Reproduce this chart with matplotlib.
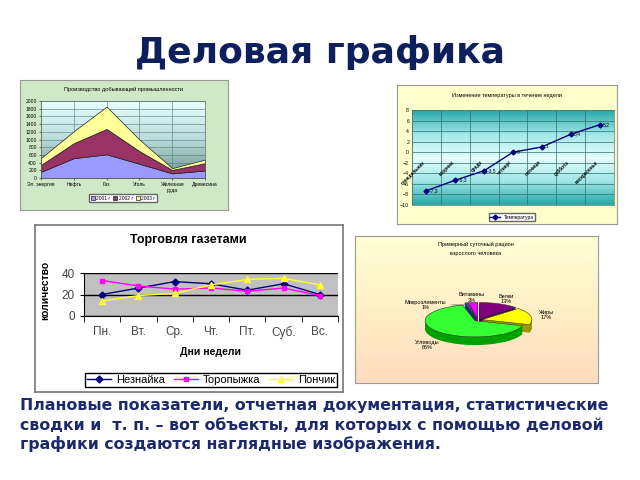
import numpy as np
import matplotlib
matplotlib.use('Agg')
import matplotlib.pyplot as plt
from matplotlib.colors import LinearSegmentedColormap

plt.rcParams['font.family'] = ['Liberation Sans', 'DejaVu Sans']

# производство (накопительная диаграмма с областями)
prod_cats = ['Эл. энергия', 'Нефть', 'Газ', 'Уголь', 'Железная\nруда', 'Древесина']
prod_2001 = [160, 515, 615, 370, 120, 195]
prod_2002 = [180, 390, 660, 330, 90, 190]
prod_2003 = [180, 310, 580, 300, 45, 95]
prod_years = ['2001 г', '2002 г', '2003 г']

# температура
temp_days = ['понедельник', 'вторник', 'среда', 'четверг', 'пятница', 'суббота', 'воскресенье']
temp_vals = [-7.3, -5.3, -3.5, 0, 1, 3.4, 5.2]

# газеты
news_days = ['Пн.', 'Вт.', 'Ср.', 'Чт.', 'Пт.', 'Суб.', 'Вс.']
news_neznaika = [20, 26, 32, 30, 24, 30, 20]
news_toropyzhka = [33, 28, 25, 26, 23, 26, 19]
news_ponchik = [14, 19, 21, 29, 34, 35, 29]

# рацион
diet_names = ['Белки', 'Жиры', 'Углеводы', 'Микроэлементы', 'Витамины']
diet_pct = [13, 17, 66, 1, 3]

W, H = 640, 480
fig = plt.figure(figsize=(6.4, 4.8), dpi=100)


def box(x0, y0, x1, y1):
    return [x0 / W, 1 - y1 / H, (x1 - x0) / W, (y1 - y0) / H]


def fx(x):
    return x / W


def fy(y):
    return 1 - y / H


def panel(x0, y0, x1, y1, face='white', grad=None, edge='#999999', lw=0.8):
    a = fig.add_axes(box(x0, y0, x1, y1))
    a.set_xticks([])
    a.set_yticks([])
    a.set_facecolor(face)
    if grad is not None:
        cm = LinearSegmentedColormap.from_list('bg', grad)
        a.imshow(np.linspace(0, 1, 100)[:, None], cmap=cm, aspect='auto', extent=[0, 1, 0, 1])
    for s in a.spines.values():
        s.set_color(edge)
        s.set_linewidth(lw)
    return a


def grad_img(ax, colors, extent):
    cm = LinearSegmentedColormap.from_list('pg', colors)
    ax.imshow(np.linspace(0, 1, 100)[:, None], cmap=cm, aspect='auto', extent=extent, zorder=0)


# заголовок
fig.text(0.5, fy(52), 'Деловая графика', family='DejaVu Sans', fontsize=26,
         fontweight='bold', color='#0d1f5c', ha='center', va='center')

# ---------- 1: производство ----------
panel(20, 80, 228, 210, face='#cfe9c6')
ax1 = fig.add_axes(box(41, 101, 205, 178))
x1 = np.arange(len(prod_cats))
grad_img(ax1, ['#e8ffff', '#b9dcdc', '#6f938f'], [0, 5, 0, 2000])
ax1.stackplot(x1, prod_2001, prod_2002, prod_2003, colors=['#9999ff', '#993366', '#ffff99'],
              edgecolor='#222222', linewidth=0.5, labels=prod_years, zorder=2)
ax1.set_xlim(0, 5)
ax1.set_ylim(0, 2000)
ax1.set_yticks(range(0, 2001, 200))
ax1.set_xticks(x1)
ax1.set_xticklabels(prod_cats)
ax1.tick_params(labelsize=3.6, length=1.5, width=0.4, pad=1.5)
ax1.grid(True, color='#4f7878', lw=0.4)
for s in ax1.spines.values():
    s.set_color('#666666')
    s.set_linewidth(0.5)
ax1.legend(loc='center', bbox_to_anchor=(fx(123), fy(198)), bbox_transform=fig.transFigure,
           ncol=3, fontsize=3.5, handlelength=0.8, handleheight=0.8, handletextpad=0.3,
           columnspacing=0.6, fancybox=False, edgecolor='#666666', borderpad=0.3, framealpha=1)
fig.text(fx(123), fy(89), 'Производство добывающей промышленности', fontsize=4,
         ha='center', va='center')

# ---------- 2: температура ----------
panel(397, 85, 617, 224, face='#ffffcc')
ax2 = fig.add_axes(box(412, 110, 614, 205))
x2 = np.arange(len(temp_days))
grad_img(ax2, ['#2aa8a8', '#a0e6e6', '#e8ffff', '#a0e6e6', '#2aa8a8'], [-0.5, 6.5, -10, 8])
ax2.plot(x2, temp_vals, color='#000080', lw=1, marker='D', ms=2.5, label='Температура', zorder=3)
for xi, v in zip(x2, temp_vals):
    ax2.text(xi + 0.12, v, '{:g}'.format(v).replace('.', ','), fontsize=3.6,
             va='center', ha='left', zorder=4)
for xi, d in zip(x2, temp_days):
    ax2.text(xi, -1.4, d, rotation=45, ha='right', va='top', fontsize=3.4,
             fontweight='bold', zorder=4)
ax2.set_xlim(-0.5, 6.5)
ax2.set_ylim(-10, 8)
ax2.set_yticks(range(-10, 9, 2))
ax2.set_xticks(np.arange(-0.5, 7, 1))
ax2.set_xticklabels([])
ax2.grid(True, color='#2a7070', lw=0.5)
ax2.tick_params(length=0, labelsize=3.8, pad=2)
for s in ax2.spines.values():
    s.set_color('#557777')
    s.set_linewidth(0.5)
ax2.legend(loc='center', bbox_to_anchor=(fx(512), fy(217)), bbox_transform=fig.transFigure,
           fontsize=3.5, handlelength=2, fancybox=False, edgecolor='#666666',
           borderpad=0.3, framealpha=1)
fig.text(fx(507), fy(96), 'Изменение температуры в течение недели', fontsize=4,
         ha='center', va='center')

# ---------- 3: газеты ----------
panel(35, 225, 343, 392, face='white', edge='#777777', lw=1.2)
ax3 = fig.add_axes(box(84, 273, 338, 316))
x3 = np.arange(len(news_days))
ax3.set_facecolor('#c0c0c0')
ax3.plot(x3, news_neznaika, color='#000080', marker='D', ms=3.5, lw=1, label='Незнайка', zorder=3)
ax3.plot(x3, news_toropyzhka, color='#ff00ff', marker='s', ms=3.5, lw=1, label='Торопыжка', zorder=3)
ax3.plot(x3, news_ponchik, color='#ffff33', marker='^', ms=4, lw=1, label='Пончик', zorder=3)
ax3.set_xlim(-0.5, 6.5)
ax3.set_ylim(0, 40)
ax3.set_yticks([0, 20, 40])
ax3.yaxis.grid(True, color='black', lw=1)
ax3.set_xticks(x3)
ax3.set_xticklabels(news_days)
ax3.set_xticks(np.arange(-0.5, 7, 1), minor=True)
ax3.tick_params(axis='x', which='major', length=0, pad=7, labelsize=8.5, labelcolor='#444444')
ax3.tick_params(axis='x', which='minor', length=4)
ax3.tick_params(axis='y', length=3, labelsize=8.5, labelcolor='#444444')
ax3.spines['top'].set_visible(False)
ax3.spines['right'].set_visible(False)
fig.text(fx(188), fy(240), 'Торговля газетами', fontsize=9, fontweight='bold',
         ha='center', va='center')
fig.text(fx(45), fy(290), 'количество', fontsize=7.5, fontweight='bold', rotation=90,
         ha='center', va='center')
fig.text(fx(211), fy(352), 'Дни недели', fontsize=7.5, fontweight='bold',
         ha='center', va='center')
ax3.legend(loc='center', bbox_to_anchor=(fx(211), fy(380)), bbox_transform=fig.transFigure,
           ncol=3, fontsize=8, handlelength=2.2, handletextpad=0.4, columnspacing=0.8,
           fancybox=False, edgecolor='black', borderpad=0.2, framealpha=1)

# ---------- 4: рацион ----------
panel(355, 236, 598, 383, grad=['#ffffd6', '#ffefc6', '#ffdcc0'])
ax4 = fig.add_axes(box(413, 294, 543, 349))
ax4.patch.set_visible(False)
top_cols = ['#800080', '#ffff00', '#33ff33', '#3355cc', '#ff00ff']
side_cols = ['#4a004a', '#9a9a00', '#00a000', '#1a2a70', '#990099']
expl = [0.08] * len(diet_pct)
for dy in np.linspace(-0.5, 0, 12)[:-1]:
    ax4.pie(diet_pct, colors=side_cols, explode=expl, startangle=90, counterclock=False,
            center=(0, dy), wedgeprops=dict(linewidth=0))
ax4.pie(diet_pct, colors=top_cols, explode=expl, startangle=90, counterclock=False,
        wedgeprops=dict(linewidth=0.4, edgecolor='#333333'))
ax4.set_aspect('auto')
ax4.set_xlim(-1.3, 1.3)
ax4.set_ylim(-1.8, 1.6)
cum = np.cumsum(diet_pct) - np.array(diet_pct) / 2
for name, p, c in zip(diet_names, diet_pct, cum):
    ang = np.deg2rad(90 - 360 * c / sum(diet_pct))
    r = 1.4
    lx, ly = r * np.cos(ang), r * np.sin(ang)
    if p < 2:
        ax4.annotate(name + '\n' + str(p) + '%', xy=(0.95 * np.cos(ang), 0.95 * np.sin(ang)),
                     xytext=(lx - 0.75, ly - 0.45), fontsize=4, ha='center', va='center',
                     arrowprops=dict(arrowstyle='-', lw=0.4, color='#333333'))
    else:
        if ly < 0:
            ly -= 0.6
        ax4.text(lx, ly, name + '\n' + str(p) + '%', fontsize=4, ha='center', va='center')
fig.text(fx(476), fy(249), 'Примерный суточный рацион\nвзрослого человека', fontsize=4,
         ha='center', va='center', linespacing=1.9)

# нижний текст
fig.text(fx(20), fy(398),
         'Плановые показатели, отчетная документация, статистические\n'
         'сводки и  т. п. – вот объекты, для которых с помощью деловой\n'
         'графики создаются наглядные изображения.',
         family='DejaVu Sans', fontsize=11.3, fontweight='bold', color='#1c2a6b',
         ha='left', va='top', linespacing=1.3)

fig.savefig('out.png', dpi=100)
